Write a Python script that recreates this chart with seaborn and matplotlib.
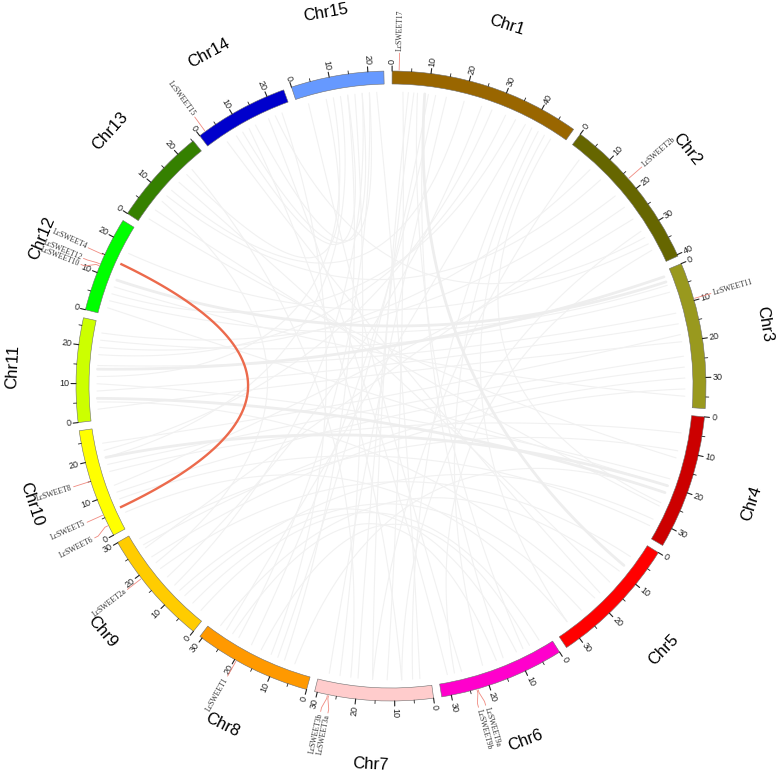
import numpy as np
import pandas as pd
import matplotlib.pyplot as plt
import seaborn as sns
from matplotlib.patches import Wedge

# chromosomes (Mb), clockwise from the top
chrom_names = ["Chr1", "Chr2", "Chr3", "Chr4", "Chr5", "Chr6", "Chr7", "Chr8",
               "Chr9", "Chr10", "Chr11", "Chr12", "Chr13", "Chr14", "Chr15"]
chrom_sizes = [49.6, 40.4, 38.0, 34.9, 34.1, 32.5, 30.7, 30.7,
               30.1, 28.3, 27.0, 24.9, 25.2, 24.6, 24.1]
chrom_colors = ["#996600", "#666600", "#99991e", "#cc0000", "#ff0000", "#ff00cc",
                "#ffcccc", "#ff9900", "#ffcc00", "#ffff00", "#ccff00", "#00ff00",
                "#358000", "#0000cc", "#6699ff"]

# SWEET genes: chromosome, position (Mb), label position (Mb)
gene_names = ["LcSWEET17", "LcSWEET2b", "LcSWEET11", "LcSWEET9a", "LcSWEET9b",
              "LcSWEET3a", "LcSWEET3b", "LcSWEET1", "LcSWEET2a", "LcSWEET8",
              "LcSWEET5", "LcSWEET6", "LcSWEET4", "LcSWEET12", "LcSWEET10", "LcSWEET15"]
gene_chroms = ["Chr1", "Chr2", "Chr3", "Chr6", "Chr6", "Chr7", "Chr7", "Chr8",
               "Chr9", "Chr10", "Chr10", "Chr10", "Chr12", "Chr12", "Chr12", "Chr14"]
gene_pos = [1.8, 16.8, 9.5, 23.0, 23.3, 27.0, 27.3, 19.5,
            19.0, 15.0, 5.8, 2.8, 14.8, 12.3, 11.8, 1.8]
gene_label_pos = [1.8, 16.8, 9.5, 22.3, 24.1, 26.3, 28.1, 19.5,
                  19.0, 15.0, 5.8, 1.6, 14.8, 12.0, 10.4, 1.8]

# segmental duplication between SWEET genes
dup_a = ("Chr12", 14.5)
dup_b = ("Chr10", 5.8)

# background synteny links
link_chr_a = ["Chr1", "Chr1", "Chr1", "Chr1", "Chr1", "Chr1",
              "Chr15", "Chr15", "Chr15", "Chr15", "Chr15", "Chr15",
              "Chr14", "Chr14", "Chr14", "Chr13",
              "Chr1", "Chr1", "Chr1", "Chr1", "Chr1", "Chr1", "Chr1", "Chr1", "Chr1",
              "Chr2", "Chr2", "Chr2", "Chr2", "Chr2", "Chr2", "Chr2",
              "Chr3", "Chr3", "Chr3", "Chr3", "Chr3", "Chr3", "Chr3", "Chr3", "Chr3", "Chr3",
              "Chr4", "Chr4", "Chr4", "Chr4", "Chr4", "Chr4", "Chr4",
              "Chr5", "Chr5", "Chr5", "Chr5", "Chr5", "Chr5",
              "Chr6", "Chr6", "Chr6", "Chr6", "Chr6", "Chr6",
              "Chr7", "Chr7", "Chr7", "Chr7", "Chr7",
              "Chr11", "Chr11", "Chr12", "Chr13", "Chr13", "Chr14", "Chr10",
              "Chr8", "Chr9", "Chr8"]
link_pos_a = [3, 4.5, 6, 7, 9, 10,
              14, 16, 18, 20, 10, 12,
              8, 10, 14, 18,
              25, 28, 32, 35, 38, 40, 42, 44, 46,
              8, 12, 22, 26, 30, 34, 36,
              4, 6, 12, 15, 18, 20, 24, 27, 30, 33,
              5, 10, 18, 20, 22, 26, 30,
              5, 10, 14, 18, 25, 30,
              3, 6, 10, 16, 26, 30,
              3, 8, 22, 28, 16,
              5, 24, 8, 2, 12, 20, 8,
              12, 20, 18]
link_chr_b = ["Chr7", "Chr7", "Chr7", "Chr6", "Chr6", "Chr8",
              "Chr8", "Chr7", "Chr9", "Chr8", "Chr11", "Chr10",
              "Chr15", "Chr15", "Chr15", "Chr15",
              "Chr9", "Chr10", "Chr11", "Chr12", "Chr8", "Chr7", "Chr6", "Chr5", "Chr4",
              "Chr11", "Chr13", "Chr9", "Chr10", "Chr7", "Chr12", "Chr6",
              "Chr12", "Chr11", "Chr11", "Chr11", "Chr10", "Chr11", "Chr10", "Chr10", "Chr9", "Chr9",
              "Chr10", "Chr9", "Chr11", "Chr12", "Chr8", "Chr13", "Chr9",
              "Chr9", "Chr8", "Chr13", "Chr14", "Chr9", "Chr10",
              "Chr9", "Chr8", "Chr9", "Chr8", "Chr15", "Chr14",
              "Chr15", "Chr14", "Chr13", "Chr1", "Chr2",
              "Chr5", "Chr2", "Chr3", "Chr4", "Chr1", "Chr2", "Chr4",
              "Chr14", "Chr13", "Chr1"]
link_pos_b = [12, 16, 20, 8, 14, 10,
              8, 25, 12, 22, 12, 20,
              14, 18, 20, 8,
              15, 22, 18, 6, 26, 5, 20, 30, 25,
              20, 10, 25, 12, 8, 18, 28,
              4, 22, 15, 8, 24, 3, 18, 10, 26, 22,
              16, 28, 10, 2, 5, 5, 8,
              18, 28, 15, 5, 5, 4,
              2, 15, 10, 24, 3, 18,
              22, 12, 20, 15, 4,
              20, 18, 35, 12, 20, 32, 32,
              22, 8, 12]

# a few broader syntenic blocks
block_chr_a = ["Chr3", "Chr3", "Chr4", "Chr4", "Chr1"]
block_pos_a = [1.5, 3.0, 20.0, 22.0, 9.0]
block_chr_b = ["Chr11", "Chr12", "Chr10", "Chr11", "Chr5"]
block_pos_b = [14.0, 10.0, 20.0, 6.0, 8.0]

# geometry (pixels)
W, H = 778, 779
CX, CY = 391, 779 - 386
R_OUT, R_IN, R_LINK = 315, 302, 294
R_NAME = 379
BEZ_R = 15  # bezier control point offset from the centre
GAP, START = 1.5, 0.2

sns.set_theme(style="white")
plt.rcParams['font.family'] = ['Liberation Sans', 'DejaVu Sans']

scale = (360 - GAP * len(chrom_sizes)) / sum(chrom_sizes)
chr_start = {}
acc = START
for name, size in zip(chrom_names, chrom_sizes):
    chr_start[name] = acc
    acc += size * scale + GAP


def theta(chrom, pos):
    return chr_start[chrom] + pos * scale


def xy(th, r):
    t = np.radians(th)
    return CX + r * np.sin(t), CY + r * np.cos(t)


def radial_text(ax, th, r, s, **kw):
    phi = 90 - th
    x, y = xy(th, r)
    if 0 <= th % 360 <= 180:
        ax.text(x, y, s, rotation=phi, rotation_mode='anchor', ha='left', va='center', **kw)
    else:
        ax.text(x, y, s, rotation=phi + 180, rotation_mode='anchor', ha='right', va='center', **kw)


def bezier(th1, th2, r):
    x0, y0 = xy(th1, r)
    x2, y2 = xy(th2, r)
    # control point slightly off centre, towards the link's ends
    vx = np.sin(np.radians(th1)) + np.sin(np.radians(th2))
    vy = np.cos(np.radians(th1)) + np.cos(np.radians(th2))
    n = np.hypot(vx, vy)
    cx, cy = (CX + BEZ_R * vx / n, CY + BEZ_R * vy / n) if n > 1e-6 else (CX, CY)
    t = np.linspace(0, 1, 80)
    bx = (1 - t) ** 2 * x0 + 2 * (1 - t) * t * cx + t ** 2 * x2
    by = (1 - t) ** 2 * y0 + 2 * (1 - t) * t * cy + t ** 2 * y2
    return bx, by


fig = plt.figure(figsize=(W / 100, H / 100), dpi=100)
ax = fig.add_axes([0, 0, 1, 1])
ax.set_xlim(0, W)
ax.set_ylim(0, H)
ax.axis('off')

# background links
rows = []
for i, (ca, pa, cb, pb) in enumerate(zip(link_chr_a, link_pos_a, link_chr_b, link_pos_b)):
    bx, by = bezier(theta(ca, pa), theta(cb, pb), R_LINK)
    rows.append(pd.DataFrame({'x': bx, 'y': by, 'link': i}))
links = pd.concat(rows, ignore_index=True)
sns.lineplot(data=links, x='x', y='y', units='link', estimator=None, sort=False,
             color='#f1f1f1', lw=0.8, legend=False, ax=ax)

rows = []
for i, (ca, pa, cb, pb) in enumerate(zip(block_chr_a, block_pos_a, block_chr_b, block_pos_b)):
    bx, by = bezier(theta(ca, pa), theta(cb, pb), R_LINK)
    rows.append(pd.DataFrame({'x': bx, 'y': by, 'link': i}))
blocks = pd.concat(rows, ignore_index=True)
sns.lineplot(data=blocks, x='x', y='y', units='link', estimator=None, sort=False,
             color='#eeeeee', lw=2, legend=False, ax=ax)

# duplicated pair
bx, by = bezier(theta(*dup_a), theta(*dup_b), R_LINK + 3)
ax.plot(bx, by, color='#ec6a4c', lw=1.7, zorder=3, solid_capstyle='butt')

# ideogram
for name, size, col in zip(chrom_names, chrom_sizes, chrom_colors):
    t0, t1 = theta(name, 0), theta(name, size)
    ax.add_patch(Wedge((CX, CY), R_OUT, 90 - t1, 90 - t0, width=R_OUT - R_IN,
                       facecolor=col, edgecolor='#6f6f6f', lw=0.4, zorder=4))
    for p in np.arange(0, size + 0.01, 5):
        th = theta(name, p)
        major = int(round(p)) % 10 == 0
        x0, y0 = xy(th, R_OUT)
        x1, y1 = xy(th, R_OUT + (5 if major else 3))
        ax.plot([x0, x1], [y0, y1], color='#222222', lw=0.8 if major else 0.6, zorder=4)
        if major:
            radial_text(ax, th, R_OUT + 7, f"{int(p)}", fontsize=6.5, color='#222222')
    mid = theta(name, size / 2)
    lx, ly = xy(mid, R_NAME)
    rot = -mid if np.cos(np.radians(mid)) >= 0 else 180 - mid
    ax.text(lx, ly, name, rotation=rot, ha='center', va='center', fontsize=12, color='black')

# gene labels
for g, c, p, lp in zip(gene_names, gene_chroms, gene_pos, gene_label_pos):
    tg, tl = theta(c, p), theta(c, lp)
    pts = [xy(tg, R_OUT + 1), xy(tg, R_OUT + 4), xy(tl, R_OUT + 14), xy(tl, R_OUT + 18)]
    ax.plot([q[0] for q in pts], [q[1] for q in pts], color='#f08a80', lw=0.6, zorder=4)
    radial_text(ax, tl, R_OUT + 20, g, fontsize=5.5, color='#333333',
                family=['Liberation Serif', 'DejaVu Serif'])

fig.savefig('out.png', dpi=100)
